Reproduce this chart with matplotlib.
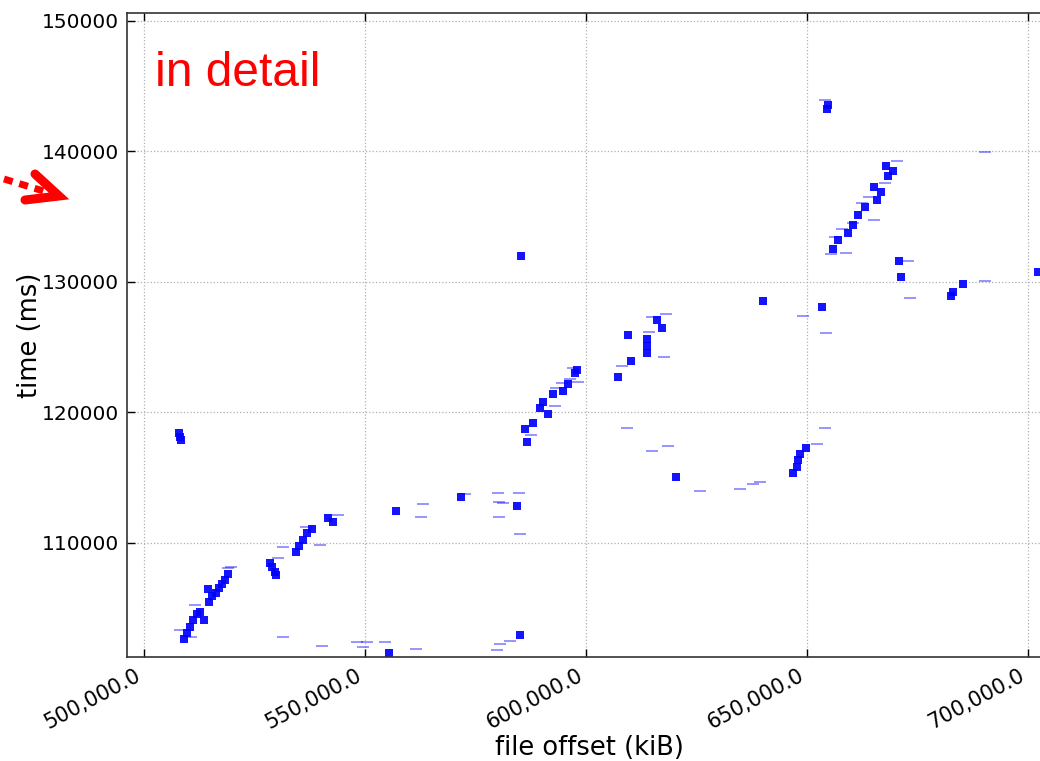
import matplotlib
matplotlib.use("Agg")
import matplotlib.pyplot as plt
from matplotlib.lines import Line2D
from matplotlib.ticker import FuncFormatter, ScalarFormatter

# Dense read requests: file offset (kiB) and time (ms)
dense_offset = [
    509050, 509728, 510407, 511086, 511991, 512669, 513574, 514706, 515384,
    514480, 516289, 516968, 517647, 518325, 519004,
    507918, 508145, 508371,
    528506, 528958, 529637, 529864, 534388, 535067, 535972, 536877, 538008,
    541628, 542759,
    557012, 571718, 584388, 555429, 585065, 585291,
    586197, 586650, 588007, 589591, 590270, 591401, 592532, 594795, 595926,
    597510, 597962,
    607238, 609500, 610179, 613799, 613799, 613799, 616061, 617193, 620360,
    646830, 647735, 647961, 648414, 649771,
    640043, 653391,
    654748, 654522,
    667870, 669454, 668323, 665155, 666739, 665834, 663119, 661536, 660404,
    659273, 657011, 655880,
    671264, 670811, 685291, 683029, 682576, 702261,
]
dense_time = [
    102644, 103103, 103563, 104099, 104559, 104713, 104099, 105479, 105939,
    106475, 106169, 106552, 106858, 107165, 107624,
    118429, 118123, 117893,
    108467, 108161, 107778, 107548, 109310, 109770, 110230, 110766, 111073,
    111916, 111609,
    112452, 113525, 112835, 101571, 102950, 131993,
    118713, 117740, 119196, 120345, 120805, 119885, 121418, 121648, 122184,
    123027, 123257,
    122721, 125939, 123947, 124560, 125096, 125633, 127088, 126476, 115058,
    115364, 115824, 116360, 116820, 117280,
    128544, 128085,
    143564, 143258,
    138890, 138506, 138123, 137280, 136897, 136284, 135748, 135135, 134368,
    133755, 133219, 132529,
    130384, 131610, 129847, 129234, 128927, 130767,
]

# Sparse / short reads
light_offset = [
    519683, 511538, 508145, 510633, 531447, 536651, 539818, 543890, 530316,
    519004, 563121, 562669, 572623, 580089, 580316, 581221, 580316, 584841,
    585065, 554524, 561537, 580541, 579862, 582803, 531447, 540271, 548189,
    549547, 550452,
    587555, 593211, 592985, 594569, 598189, 596379, 597057,
    608143, 617645, 614930, 618097, 614251, 609274, 614930, 618550, 625790,
    634840, 637781, 639364, 652260, 654070, 654070,
    670359, 664024, 662441, 657915, 656332, 655427, 658820, 665155, 660404,
    667644, 672848, 673300, 690268, 690268, 649093, 654296,
]
light_time = [
    108161, 105249, 103333, 102797, 109693, 111226, 109847, 112146, 108850,
    108084, 112988, 111992, 113755, 113832, 113142, 113065, 111992, 113832,
    110690, 102414, 101877, 102261, 101801, 102491, 102797, 102107, 102414,
    102030, 102414,
    118276, 121878, 120498, 122261, 122337, 122567, 123410,
    123563, 124253, 127318, 127548, 126169, 118812, 117050, 117433, 113985,
    114138, 114521, 114674, 117587, 118812, 143947,
    139273, 136514, 136054, 134062, 133449, 132146, 132223, 134751, 134521,
    137587, 131610, 128774, 139962, 130077, 127395, 126092,
]

x_ticks = [500000, 550000, 600000, 650000, 700000]
y_ticks = [110000, 120000, 130000, 140000, 150000]

W, H = 1040, 761
fig = plt.figure(figsize=(W / 100, H / 100), dpi=100)
ax = fig.add_axes([127 / W, 1 - 657 / H, 933 / W, 644 / H])

ax.plot(light_offset, light_time, ls="none", marker="_", ms=8, mew=1.3,
        color="#0000ff", alpha=0.45)
ax.plot(dense_offset, dense_time, ls="none", marker="s", ms=5.2, mew=0,
        color="#0000ff", alpha=0.92)

ax.set_xlim(496154, 707240)
ax.set_ylim(101264, 150613)
ax.set_xticks(x_ticks)
ax.set_yticks(y_ticks)
ax.xaxis.set_major_formatter(FuncFormatter(lambda v, p: f"{v:,.1f}"))
yfmt = ScalarFormatter(useOffset=False)
yfmt.set_scientific(False)
ax.yaxis.set_major_formatter(yfmt)

ax.tick_params(direction="in", length=6, width=1, top=True, right=True,
               pad=6)
ax.tick_params(axis="y", labelsize=14.5)
ax.tick_params(axis="x", labelsize=15)
plt.setp(ax.get_xticklabels(), rotation=28, ha="right")
ax.grid(True, linestyle=":", color="#b0b0b0", linewidth=0.9)
for s in ax.spines.values():
    s.set_linewidth(1.2)
    s.set_color("#333333")

ax.set_xlabel("file offset (kiB)", fontsize=18.5)
ax.xaxis.label.set_va("center")
ax.xaxis.set_label_coords((589 - 127) / 933, -(748 - 657) / 644)
ax.set_ylabel("time (ms)", fontsize=18.5, labelpad=-1)

fig.text(155 / W, 1 - 86 / H, "in detail", color="red", fontsize=34.5,
         family="Liberation Sans", va="baseline", ha="left")

# dotted red pointer on the left margin
def fx(px):
    return px / W

def fy(py):
    return 1 - py / H

fig.add_artist(Line2D([fx(4), fx(50)], [fy(179), fy(193)], color="red",
                      lw=5, linestyle=(0, (1.3, 1.0)),
                      dash_capstyle="butt"))
fig.add_artist(Line2D([fx(35), fx(59), fx(25)], [fy(174), fy(196), fy(200)],
                      color="red", lw=6.5, solid_capstyle="round",
                      solid_joinstyle="miter"))

fig.savefig("out.png", dpi=100)
